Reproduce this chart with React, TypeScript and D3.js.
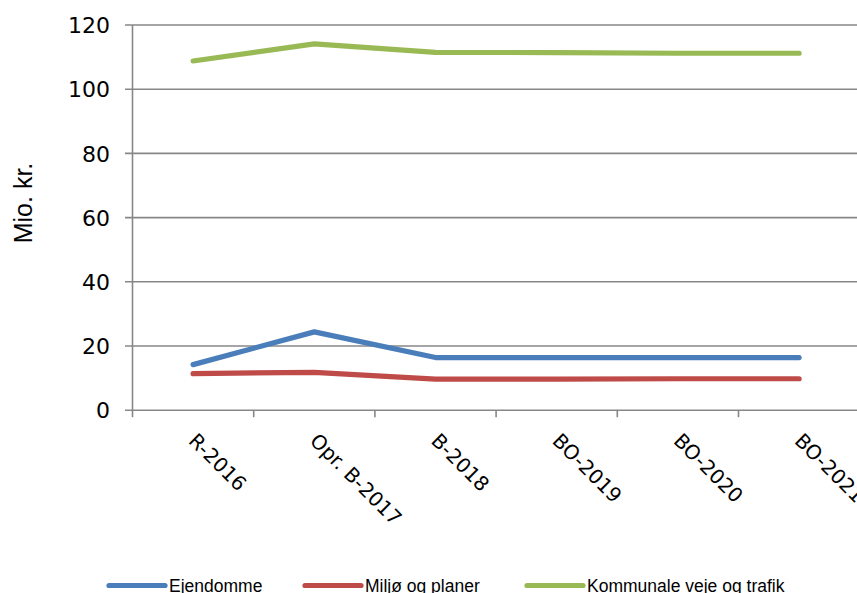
import React from "react";
import * as d3 from "d3";

const categories = ["R-2016", "Opr. B-2017", "B-2018", "BO-2019", "BO-2020", "BO-2021"];
const ejendomme = [14.2, 24.4, 16.4, 16.4, 16.4, 16.4];
const miljo = [11.4, 11.8, 9.7, 9.7, 9.8, 9.8];
const kommunale = [108.8, 114.1, 111.5, 111.4, 111.2, 111.2];
const yTicks = [0, 20, 40, 60, 80, 100, 120];
const seriesNames = ["Ejendomme", "Miljø og planer", "Kommunale veje og trafik"];
const seriesColors = ["#4A7EBB", "#BE4B48", "#98B954"];

const W = 857;
const H = 593;

export default function App() {
  const x = d3.scaleBand<string>().domain(categories).range([132.5, 859.7]).padding(0);
  const y = d3.scaleLinear().domain([0, 120]).range([410.2, 25]);
  const cx = (c: string) => (x(c) as number) + x.bandwidth() / 2;
  const line = d3
    .line<number>()
    .x((_, i) => cx(categories[i]))
    .y((d) => y(d));
  const series = [ejendomme, miljo, kommunale];
  const legendX = [109, 305, 527];
  const tickFont = "'DejaVu Sans', Verdana, sans-serif";

  return (
    <svg
      width={W}
      height={H}
      style={{ position: "absolute", left: 0, top: 0, background: "#fff" }}
    >
      <rect x={0} y={0} width={W} height={H} fill="#fff" />
      {yTicks.map((t) => (
        <g key={t}>
          <line x1={125} x2={W} y1={y(t)} y2={y(t)} stroke="#878787" strokeWidth={1.6} />
          <text
            x={110}
            y={y(t) + 8.2}
            textAnchor="end"
            fontFamily={tickFont}
            fontSize={22}
            fill="#000"
          >
            {t}
          </text>
        </g>
      ))}
      <line x1={132.5} x2={132.5} y1={y(120)} y2={y(0)} stroke="#878787" strokeWidth={1.6} />
      {categories.concat(["__end"]).map((c, i) => {
        const tx = 132.5 + i * x.bandwidth();
        return (
          <line key={"t" + i} x1={tx} x2={tx} y1={y(0)} y2={y(0) + 7} stroke="#878787" strokeWidth={1.6} />
        );
      })}
      {categories.map((c) => (
        <text
          key={c}
          transform={`translate(${cx(c) - 5.5},${442}) rotate(45)`}
          fontFamily={tickFont}
          fontSize={20}
          fill="#000"
        >
          {c}
        </text>
      ))}
      <text
        transform={`translate(32,203) rotate(-90)`}
        textAnchor="middle"
        fontFamily="'Liberation Sans', Arial, sans-serif"
        fontSize={25}
        fill="#000"
      >
        Mio. kr.
      </text>
      {series.map((s, i) => (
        <path
          key={seriesNames[i]}
          d={line(s) as string}
          fill="none"
          stroke={seriesColors[i]}
          strokeWidth={5.2}
          strokeLinecap="round"
          strokeLinejoin="round"
        />
      ))}
      {seriesNames.map((n, i) => (
        <g key={"lg" + i}>
          <line
            x1={legendX[i]}
            x2={legendX[i] + 56}
            y1={585.5}
            y2={585.5}
            stroke={seriesColors[i]}
            strokeWidth={5.2}
            strokeLinecap="round"
          />
          <text
            x={legendX[i] + 60}
            y={592}
            fontFamily="'Liberation Sans', Arial, sans-serif"
            fontSize={17.5}
            fill="#000"
          >
            {n}
          </text>
        </g>
      ))}
    </svg>
  );
}
